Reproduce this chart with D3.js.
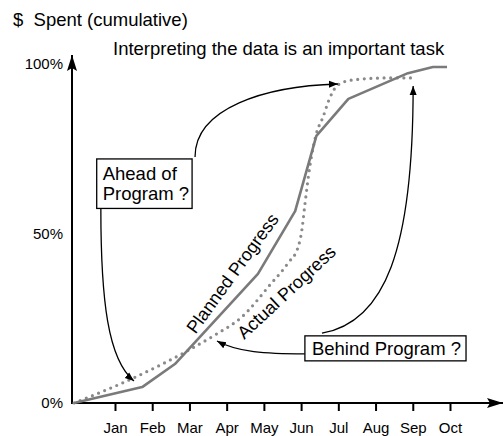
<!DOCTYPE html>
<html>
<head>
<meta charset="utf-8">
<script src="https://cdn.jsdelivr.net/npm/d3@7"></script>
<style>
  body { margin: 0; background: #fff; }
  text { font-family: "Liberation Sans", Arial, Helvetica, sans-serif; fill: #000; }
</style>
</head>
<body>
<script>
// months on the x axis (Jan = 1)
let months = ["Jan", "Feb", "Mar", "Apr", "May", "Jun", "Jul", "Aug", "Sep", "Oct"];
let monthIdx = [1, 2, 3, 4, 5, 6, 7, 8, 9, 10];

// planned progress (solid), month position vs % spent
let plannedMonth = [-0.1, 1.73, 2.61, 4.84, 5.84, 6.41, 7.27, 8.87, 9.54, 9.92];
let plannedPct = [0, 4.7, 11.5, 38.1, 56.6, 78.8, 89.7, 97.3, 99.1, 99.1];

// actual progress (dotted)
let actualMonth = [-0.1, 1.56, 2.93, 3.69, 4.41, 5.16, 5.65, 5.92, 6.02, 6.10, 6.24, 6.40, 6.59, 6.77, 6.99, 7.39, 8.39, 9.01];
let actualPct = [0, 7.7, 15.3, 20.1, 25.4, 34.8, 41.3, 46.0, 51.0, 58.4, 70.2, 79.1, 84.4, 90.0, 93.8, 95.3, 95.9, 95.9];

let yTicks = [0, 50, 100];
let yTickLabels = ["0%", "50%", "100%"];

let svgWidth = 504;
let svgHeight = 436;
let margin = { top: 64, left: 72 };
let chartWidth = 378;
let chartHeight = 339;

let svg = d3.select("body")
    .append("svg")
    .attr("width", svgWidth)
    .attr("height", svgHeight)

let defs = svg.append("defs");
defs.append("marker")
    .attr("id", "axisHead")
    .attr("markerUnits", "userSpaceOnUse")
    .attr("viewBox", "0 -6 17 12")
    .attr("refX", 16).attr("refY", 0)
    .attr("markerWidth", 17).attr("markerHeight", 12)
    .attr("orient", "auto")
    .append("path")
    .attr("d", "M0,-5L16,0L0,5L3,0Z")
    .attr("fill", "#000");
defs.append("marker")
    .attr("id", "arrHead")
    .attr("markerUnits", "userSpaceOnUse")
    .attr("viewBox", "0 -5 10 10")
    .attr("refX", 9).attr("refY", 0)
    .attr("markerWidth", 10).attr("markerHeight", 10)
    .attr("orient", "auto")
    .append("path")
    .attr("d", "M0,-3.5L9,0L0,3.5Z")
    .attr("fill", "#000");

let chartGroup = svg.append("g")
    .attr("transform", `translate(${margin.left},${margin.top})`)

// origin sits a little left of "Jan"
let x = d3.scaleLinear()
    .domain([-0.155, 10])
    .range([0, chartWidth]);

let y = d3.scaleLinear()
    .domain([0, 100])
    .range([chartHeight, 0]);

// x axis ticks + month labels
let bottomAxis = d3.axisBottom(x)
    .tickValues(monthIdx)
    .tickFormat((d, i) => months[i])
    .tickSize(8)
    .tickPadding(11);
let xAxisG = chartGroup.append("g")
    .attr("transform", `translate(0,${chartHeight})`)
    .call(bottomAxis);
xAxisG.select(".domain").remove();
xAxisG.selectAll("line").attr("stroke", "#000").attr("stroke-width", 2);
xAxisG.selectAll("text").attr("font-size", 15).attr("font-family", null);

let leftAxis = d3.axisLeft(y)
    .tickValues(yTicks)
    .tickFormat((d, i) => yTickLabels[i])
    .tickSize(0)
    .tickPadding(9);
let yAxisG = chartGroup.append("g").call(leftAxis);
yAxisG.select(".domain").remove();
yAxisG.selectAll("text").attr("font-size", 15).attr("font-family", null);

// axis lines with arrow heads
chartGroup.append("line")
    .attr("x1", 0).attr("y1", chartHeight)
    .attr("x2", 431).attr("y2", chartHeight)
    .attr("stroke", "#000").attr("stroke-width", 2)
    .attr("marker-end", "url(#axisHead)");
chartGroup.append("line")
    .attr("x1", 0).attr("y1", chartHeight + 1)
    .attr("x2", 0).attr("y2", -9)
    .attr("stroke", "#000").attr("stroke-width", 2)
    .attr("marker-end", "url(#axisHead)");

// progress lines
let planned = plannedMonth.map((m, i) => [m, plannedPct[i]]);
let actual = actualMonth.map((m, i) => [m, actualPct[i]]);

let straight = d3.line().x(d => x(d[0])).y(d => y(d[1]));
let smooth = d3.line().x(d => x(d[0])).y(d => y(d[1])).curve(d3.curveMonotoneX);

chartGroup.append("path")
    .attr("d", smooth(actual))
    .attr("fill", "none")
    .attr("stroke", "#8a8a8a")
    .attr("stroke-width", 3.2)
    .attr("stroke-linecap", "round")
    .attr("stroke-dasharray", "0 6.6");

chartGroup.append("path")
    .attr("d", straight(planned))
    .attr("fill", "none")
    .attr("stroke", "#7a7a7a")
    .attr("stroke-width", 2.6)
    .attr("stroke-linejoin", "round");

// rotated line labels
chartGroup.append("text")
    .attr("transform", `translate(${x(3.16)},${y(20.1)}) rotate(-54)`)
    .attr("font-size", 18)
    .text("Planned Progress");
chartGroup.append("text")
    .attr("transform", `translate(${x(4.47)},${y(18.6)}) rotate(-43)`)
    .attr("font-size", 18)
    .text("Actual Progress");

// annotation arrows: start, control1, control2, end in [month, %]
let arrows = [
    [[3.15, 72.6], [3.15, 87.0], [5.03, 93.5], [6.99, 94.1]],
    [[6.56, 20.6], [8.25, 23.9], [9.01, 45.1], [9.01, 93.5]],
    [[0.62, 57.2], [0.62, 30.4], [0.81, 12.7], [1.51, 6.5]],
    [[6.10, 14.5], [5.03, 14.5], [4.30, 15.0], [3.74, 18.3]]
];
arrows.forEach(function (a) {
    let p = a.map(d => [x(d[0]), y(d[1])]);
    chartGroup.append("path")
        .attr("d", `M${p[0]}C${p[1]} ${p[2]} ${p[3]}`)
        .attr("fill", "none")
        .attr("stroke", "#000")
        .attr("stroke-width", 1.3)
        .attr("marker-end", "url(#arrHead)");
})

// boxed notes
function note(m, pct, lines, pad) {
    let g = chartGroup.append("g");
    let rect = g.append("rect");
    let t = g.append("text")
        .attr("x", x(m)).attr("y", y(pct))
        .attr("font-size", 18.5);
    lines.forEach((s, i) => {
        t.append("tspan").attr("x", x(m)).attr("dy", i ? 20.5 : 0).text(s);
    });
    let b = t.node().getBBox();
    rect.attr("x", b.x - pad[3]).attr("y", b.y - pad[0])
        .attr("width", b.width + pad[1] + pad[3])
        .attr("height", b.height + pad[0] + pad[2])
        .attr("fill", "#fff")
        .attr("stroke", "#000")
        .attr("stroke-width", 1.3);
}
note(0.67, 65.8, ["Ahead of", "Program ?"], [4, 3, 4, 6]);
note(6.29, 14.2, ["Behind Program ?"], [2, 5, 2, 7]);

// titles
svg.append("text")
    .attr("x", 13).attr("y", 26)
    .attr("font-size", 18.5)
    .style("white-space", "pre")
    .text("$  Spent (cumulative)");
svg.append("text")
    .attr("x", 113).attr("y", 55)
    .attr("font-size", 18.5)
    .text("Interpreting the data is an important task");
</script>
</body>
</html>
